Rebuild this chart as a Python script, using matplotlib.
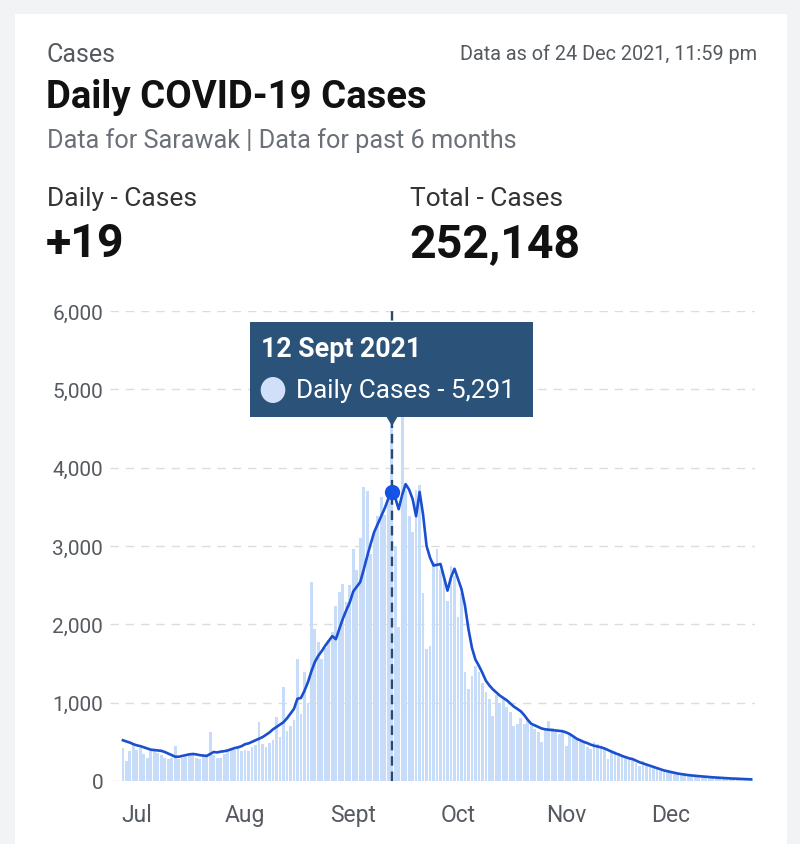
import matplotlib
matplotlib.use("Agg")
import matplotlib.pyplot as plt
import matplotlib.dates as mdates
from matplotlib.patches import Rectangle, Polygon, Circle
import numpy as np
import datetime as dt

plt.rcParams['font.family'] = ['Roboto', 'DejaVu Sans']

# daily cases, 27 Jun 2021 - 24 Dec 2021
jun = [420, 250, 380, 470]
jul = [390, 420, 350, 300, 380, 400, 360, 330, 300, 280, 290, 450, 280, 300, 310, 340,
       350, 300, 280, 330, 350, 630, 330, 290, 300, 340, 380, 420, 400, 430, 380]
aug = [400, 380, 440, 460, 750, 470, 440, 480, 520, 820, 560, 1200, 640, 700, 780, 1560,
       850, 1390, 1000, 2540, 1940, 1770, 1560, 1700, 1800, 1900, 2240, 2410, 2520, 2290, 2500]
sep = [2960, 2700, 3100, 3750, 3700, 2900, 3180, 3380, 3620, 3400, 3720, 5291, 3000, 1960, 4900,
       3720, 3380, 3180, 3720, 3780, 2400, 1690, 1720, 2800, 2960, 2700, 2620, 2300, 2750, 2620]
oct_ = [2100, 2400, 1390, 1170, 1340, 1470, 1390, 1250, 1130, 1050, 830, 1100, 1000, 1050, 950, 880,
        700, 730, 800, 730, 760, 700, 660, 620, 500, 660, 770, 680, 630, 600, 630]
nov = [450, 600, 550, 520, 500, 480, 430, 410, 500, 470, 430, 420, 280, 400, 380, 360,
       330, 320, 300, 280, 230, 190, 250, 200, 180, 160, 150, 130, 120, 110]
dec = [110, 100, 90, 80, 85, 70, 75, 60, 65, 55, 50, 45, 48, 40, 42, 35, 38, 30, 32, 28, 25, 24, 22, 19]
daily = jun + jul + aug + sep + oct_ + nov + dec

# 7-day average line
avg_jun = [520, 505, 490, 470]
avg_jul = [455, 445, 430, 415, 400, 395, 390, 385, 370, 350, 330, 310, 310, 320, 330, 340,
           345, 340, 330, 325, 320, 345, 370, 365, 375, 380, 390, 405, 420, 430, 445]
avg_aug = [470, 480, 500, 520, 540, 560, 590, 620, 660, 690, 720, 750, 800, 860, 920, 1050,
           1060, 1150, 1260, 1400, 1520, 1600, 1660, 1730, 1790, 1850, 1810, 1940, 2070, 2180, 2280]
avg_sep = [2420, 2480, 2540, 2700, 2870, 3030, 3180, 3280, 3380, 3480, 3600, 3690, 3620, 3470, 3650,
           3790, 3720, 3600, 3380, 3690, 3400, 3000, 2850, 2750, 2760, 2770, 2600, 2430, 2600, 2710]
avg_oct = [2580, 2450, 2240, 1940, 1700, 1550, 1470, 1380, 1280, 1220, 1170, 1130, 1090, 1060, 1030, 990,
           950, 920, 890, 840, 780, 730, 710, 690, 670, 660, 655, 650, 645, 640, 635]
avg_nov = [620, 600, 570, 540, 520, 500, 485, 465, 450, 440, 430, 415, 395, 375, 355, 340,
           320, 305, 290, 280, 260, 240, 225, 210, 195, 180, 165, 150, 135, 125]
avg_dec = [115, 105, 95, 88, 80, 75, 70, 66, 62, 58, 54, 50, 47, 44, 41, 38, 36, 33, 31, 29, 27, 25, 23, 21]
avg7 = avg_jun + avg_jul + avg_aug + avg_sep + avg_oct + avg_nov + avg_dec

start = dt.date(2021, 6, 27)
dates = [start + dt.timedelta(days=i) for i in range(len(daily))]
dnum = mdates.date2num(dates)

month_ticks = [dt.date(2021, m, 1) for m in range(7, 13)]
month_labels = ['Jul', 'Aug', 'Sept', 'Oct', 'Nov', 'Dec']
yticks = [0, 1000, 2000, 3000, 4000, 5000, 6000]

hover_date = dt.date(2021, 9, 12)
hover_idx = dates.index(hover_date)

W, H = 800, 845
fig = plt.figure(figsize=(W / 100, H / 100), dpi=100)
fig.patch.set_facecolor('#f2f3f5')

def fx(px):
    return px / W

def fy(py):
    return 1 - py / H

fig.patches.append(Rectangle((fx(15), 0), fx(772), fy(15), transform=fig.transFigure,
                             facecolor='white', edgecolor='none', zorder=-5))

grey = '#555a60'
fig.text(fx(47), fy(55), 'Cases', fontsize=18, color=grey, va='center')
fig.text(fx(757), fy(54), 'Data as of 24 Dec 2021, 11:59 pm', fontsize=14.3, color=grey,
         va='center', ha='right')
fig.text(fx(46), fy(98), 'Daily COVID-19 Cases', fontsize=27.5, color='#111111',
         fontweight='bold', va='center')
fig.text(fx(47), fy(141), 'Data for Sarawak | Data for past 6 months', fontsize=18.2,
         color='#6b7078', va='center')
fig.text(fx(47), fy(199), 'Daily - Cases', fontsize=19, color='#333333', va='center')
fig.text(fx(410), fy(199), 'Total - Cases', fontsize=19, color='#333333', va='center')
fig.text(fx(46), fy(244), '+19', fontsize=33.5, color='#111111', fontweight='bold', va='center')
fig.text(fx(409), fy(244), '252,148', fontsize=33.5, color='#111111', fontweight='bold', va='center')

ax = fig.add_axes([fx(110), fy(782), fx(755 - 110), (782 - 312) / H])
ax.set_facecolor('none')
ax.bar(dnum, daily, width=0.8, color='#c6dcf9', zorder=2)
ax.plot(dnum, avg7, color='#1a4fcf', lw=1.9, zorder=3)

ax.set_ylim(0, 6000)
ax.set_xlim(mdates.date2num(dt.date(2021, 6, 23)) + 0.3, mdates.date2num(dt.date(2021, 12, 25)) + 0.1)
ax.set_yticks(yticks)
ax.set_yticklabels([f'{v:,}' for v in yticks])
ax.set_xticks(mdates.date2num(month_ticks))
ax.set_xticklabels(month_labels)
ax.tick_params(length=0, labelsize=15, labelcolor=grey)
ax.tick_params(axis='x', labelsize=16.5, pad=16)
ax.tick_params(axis='y', pad=5)
for s in ax.spines.values():
    s.set_visible(False)
for v in yticks:
    ax.axhline(v, color='#dcdcdc', lw=1, ls=(0, (6, 5)), zorder=1)

hx = mdates.date2num(hover_date)
ax.plot([hx, hx], [0, 6000], color='#2c4a68', lw=1.7, ls=(0, (4, 2.5)), zorder=4)
ax.plot([hx], [avg7[hover_idx]], 'o', color='#1552e6', ms=10, zorder=5)

# tooltip
tip = '#2b5279'
fig.patches.append(Rectangle((fx(250), fy(418)), fx(283), (418 - 323) / H,
                             transform=fig.transFigure, facecolor=tip, edgecolor='none', zorder=10))
fig.patches.append(Polygon([(fx(386), fy(417)), (fx(398), fy(417)), (fx(392), fy(427))],
                           closed=True, transform=fig.transFigure, facecolor=tip,
                           edgecolor='none', zorder=10))
fig.patches.append(Circle((fx(273), fy(391)), 13 / H, transform=fig.transFigure,
                          facecolor='#cfe0f8', edgecolor='none', zorder=11))
fig.text(fx(261), fy(350), hover_date.strftime('%d') + ' Sept 2021', fontsize=19.3,
         color='white', fontweight='bold', va='center', zorder=12)
fig.text(fx(296), fy(391), f'Daily Cases - {daily[hover_idx]:,}', fontsize=18.8,
         color='white', va='center', zorder=12)

fig.savefig('out.png', dpi=100, facecolor=fig.get_facecolor())
